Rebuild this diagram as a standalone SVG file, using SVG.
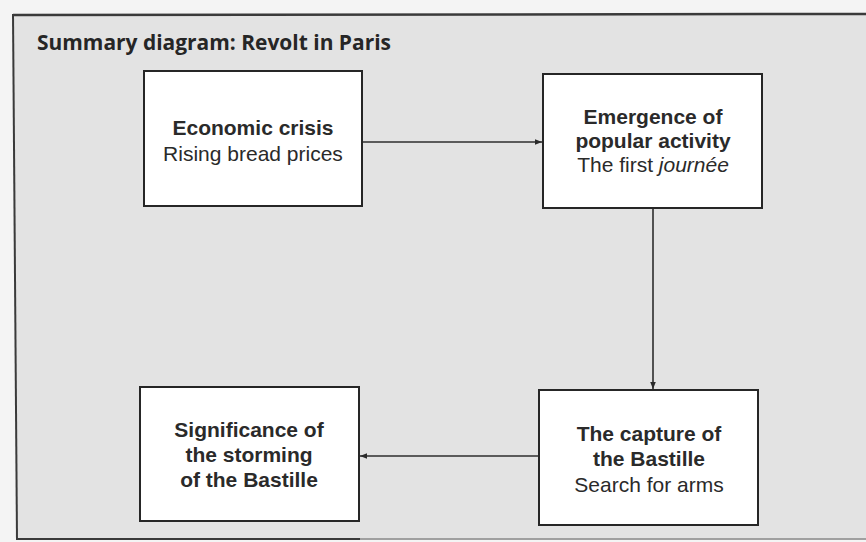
<svg xmlns="http://www.w3.org/2000/svg" width="866" height="542" viewBox="0 0 866 542">
<defs>
<marker id="ah" viewBox="0 0 10 10" refX="10" refY="5" markerWidth="7" markerHeight="7" markerUnits="userSpaceOnUse" orient="auto">
<path d="M0,1 L10,5 L0,9 z" fill="#2a2a2a"/>
</marker>
<style>
.box{fill:#ffffff;stroke:#262626;stroke-width:2}
.t{font-family:"Liberation Sans",Arial,sans-serif;font-size:21px;fill:#2a2a2a;text-anchor:middle}
.b{font-weight:bold}
.i{font-style:italic}
.conn{stroke:#2e2e2e;stroke-width:1.6;fill:none;marker-end:url(#ah)}
</style>
</defs>
<rect x="0" y="0" width="866" height="542" fill="#f4f4f4"/>
<path d="M13,15 L866,14 L866,540 L17,540 z" fill="#e3e3e3"/>
<path d="M13,15 L866,14" stroke="#3a3a3a" stroke-width="2.5" fill="none"/>
<path d="M13,14 L17,540" stroke="#3a3a3a" stroke-width="2" fill="none"/>
<path d="M17,539 L360,539" stroke="#3a3a3a" stroke-width="2" fill="none"/>
<path d="M360,539 L866,539" stroke="#8a8a8a" stroke-width="1.5" fill="none"/>
<text x="37" y="50" font-family="'Open Sans','Liberation Sans',sans-serif" font-weight="bold" font-size="21" fill="#262626" textLength="354" lengthAdjust="spacingAndGlyphs">Summary diagram: Revolt in Paris</text>
<g id="connectors">
<line class="conn" x1="363" y1="142" x2="542" y2="142"/>
<line class="conn" x1="653" y1="209" x2="653" y2="389"/>
<line class="conn" x1="538" y1="456" x2="360" y2="456"/>
</g>
<g id="economic-crisis">
<rect class="box" x="144" y="71" width="218" height="135"/>
<text class="t b" x="253" y="135">Economic crisis</text>
<text class="t" x="253" y="161">Rising bread prices</text>
</g>
<g id="emergence">
<rect class="box" x="543" y="74" width="219" height="134"/>
<text class="t b" x="653" y="124">Emergence of</text>
<text class="t b" x="653" y="148">popular activity</text>
<text class="t" x="653" y="172">The first <tspan class="i">journée</tspan></text>
</g>
<g id="capture">
<rect class="box" x="539" y="390" width="219" height="135"/>
<text class="t b" x="649" y="441">The capture of</text>
<text class="t b" x="649" y="466">the Bastille</text>
<text class="t" x="649" y="492">Search for arms</text>
</g>
<g id="significance">
<rect class="box" x="140" y="387" width="219" height="134"/>
<text class="t b" x="249" y="437">Significance of</text>
<text class="t b" x="249" y="462">the storming</text>
<text class="t b" x="249" y="487">of the Bastille</text>
</g>
</svg>
